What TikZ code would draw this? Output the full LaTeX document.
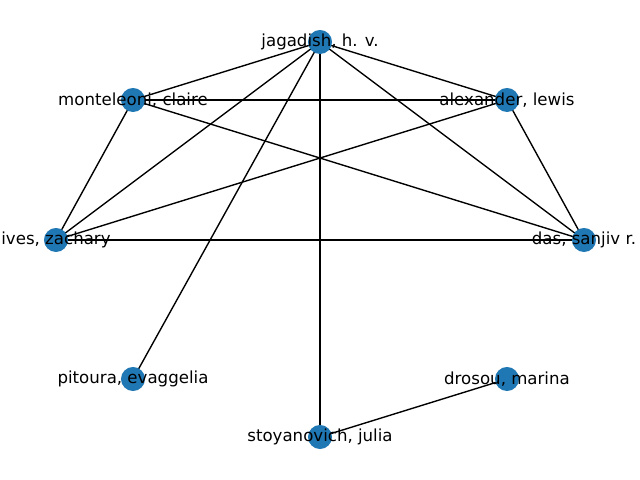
\documentclass[tikz,border=0pt]{standalone}
\usepackage{fontspec}
\setmainfont{DejaVu Sans}
\definecolor{nodeblue}{HTML}{1F77B4}
\begin{document}
\begin{tikzpicture}[x=0.01in,y=-0.01in,
  vert/.style={circle,fill=nodeblue,draw=none,minimum size=0.24in,inner sep=0pt},
  lbl/.style={inner sep=0pt,font=\fontsize{12}{14}\selectfont,text=black},
  edge/.style={line width=1pt,black}]
\useasboundingbox (0,0) rectangle (640,480);
\coordinate (j) at (320,42);
\coordinate (m) at (133,100);
\coordinate (a) at (507,100);
\coordinate (i) at (56,240);
\coordinate (d) at (584,240);
\coordinate (p) at (133,379);
\coordinate (r) at (507,379);
\coordinate (s) at (320,437);
\draw[edge] (j) -- (m);
\draw[edge] (j) -- (a);
\draw[edge] (j) -- (i);
\draw[edge] (j) -- (d);
\draw[edge] (j) -- (p);
\draw[edge] (j) -- (s);
\draw[edge] (m) -- (a);
\draw[edge] (m) -- (i);
\draw[edge] (m) -- (d);
\draw[edge] (a) -- (i);
\draw[edge] (a) -- (d);
\draw[edge] (i) -- (d);
\draw[edge] (r) -- (s);
\node[vert] (jn) at (j) {};
\node[vert] (mn) at (m) {};
\node[vert] (an) at (a) {};
\node[vert] (in) at (i) {};
\node[vert] (dn) at (d) {};
\node[vert] (pn) at (p) {};
\node[vert] (rn) at (r) {};
\node[vert] (sn) at (s) {};
\node[lbl] (jl) at (j) {jagadish, h. v.};
\node[lbl] (ml) at (m) {monteleoni, claire};
\node[lbl] (al) at (a) {alexander, lewis};
\node[lbl] (il) at (i) {ives, zachary};
\node[lbl] (dl) at (d) {das, sanjiv r.};
\node[lbl] (pl) at (p) {pitoura, evaggelia};
\node[lbl] (rl) at (r) {drosou, marina};
\node[lbl] (sl) at (s) {stoyanovich, julia};
\end{tikzpicture}
\end{document}
